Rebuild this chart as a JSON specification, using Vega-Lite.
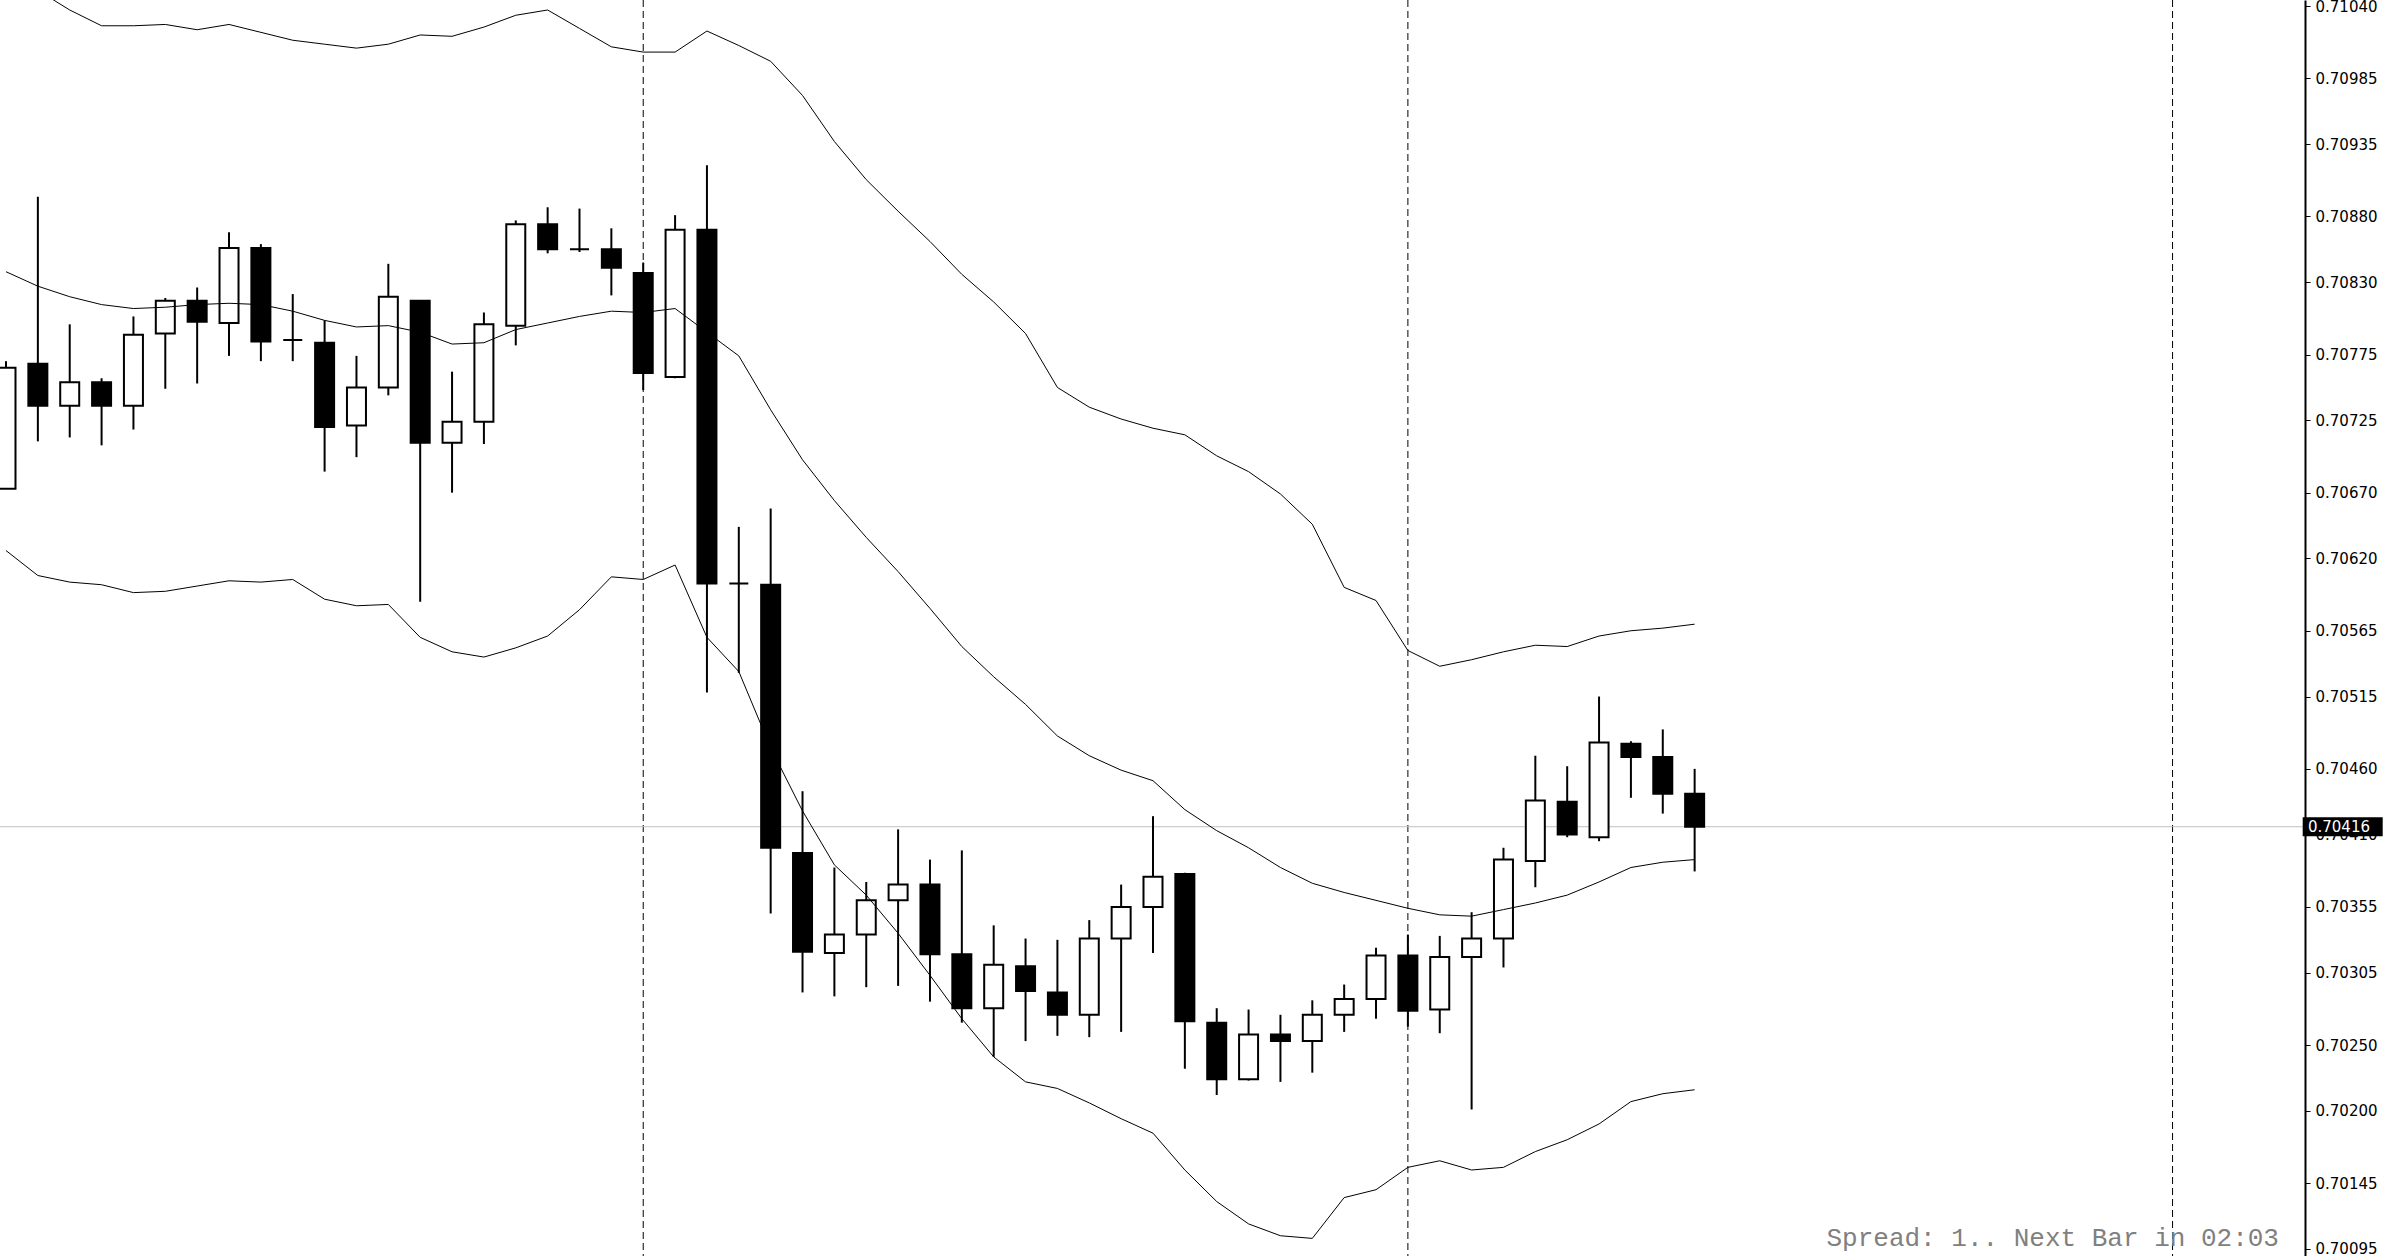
{
  "$schema": "https://vega.github.io/schema/vega-lite/v6.json",
  "width": 2305,
  "height": 1256,
  "autosize": {"type": "none"},
  "padding": {"left": 0, "top": 0, "right": 95, "bottom": 0},
  "background": "white",
  "config": {"view": {"stroke": null}},
  "resolve": {"axis": {"y": "independent"}},
  "datasets": {
    "bars": [
      {"bar": 0, "open": 0.70673, "high": 0.70770, "low": 0.70673, "close": 0.70765, "upper": 0.71067, "middle": 0.70838, "lower": 0.70626},
      {"bar": 1, "open": 0.70768, "high": 0.70895, "low": 0.70709, "close": 0.70736, "upper": 0.71052, "middle": 0.70827, "lower": 0.70607},
      {"bar": 2, "open": 0.70736, "high": 0.70798, "low": 0.70712, "close": 0.70754, "upper": 0.71037, "middle": 0.70819, "lower": 0.70602},
      {"bar": 3, "open": 0.70754, "high": 0.70757, "low": 0.70706, "close": 0.70736, "upper": 0.71025, "middle": 0.70813, "lower": 0.70600},
      {"bar": 4, "open": 0.70736, "high": 0.70804, "low": 0.70718, "close": 0.70790, "upper": 0.71025, "middle": 0.70810, "lower": 0.70594},
      {"bar": 5, "open": 0.70791, "high": 0.70818, "low": 0.70749, "close": 0.70816, "upper": 0.71026, "middle": 0.70811, "lower": 0.70595},
      {"bar": 6, "open": 0.70816, "high": 0.70826, "low": 0.70753, "close": 0.70800, "upper": 0.71022, "middle": 0.70813, "lower": 0.70599},
      {"bar": 7, "open": 0.70799, "high": 0.70868, "low": 0.70774, "close": 0.70856, "upper": 0.71026, "middle": 0.70814, "lower": 0.70603},
      {"bar": 8, "open": 0.70856, "high": 0.70859, "low": 0.70770, "close": 0.70785, "upper": 0.71020, "middle": 0.70813, "lower": 0.70602},
      {"bar": 9, "open": 0.70786, "high": 0.70821, "low": 0.70770, "close": 0.70786, "upper": 0.71014, "middle": 0.70808, "lower": 0.70604},
      {"bar": 10, "open": 0.70784, "high": 0.70801, "low": 0.70686, "close": 0.70720, "upper": 0.71011, "middle": 0.70801, "lower": 0.70589},
      {"bar": 11, "open": 0.70721, "high": 0.70774, "low": 0.70697, "close": 0.70750, "upper": 0.71008, "middle": 0.70796, "lower": 0.70584},
      {"bar": 12, "open": 0.70750, "high": 0.70844, "low": 0.70744, "close": 0.70819, "upper": 0.71011, "middle": 0.70797, "lower": 0.70585},
      {"bar": 13, "open": 0.70816, "high": 0.70816, "low": 0.70587, "close": 0.70708, "upper": 0.71018, "middle": 0.70792, "lower": 0.70560},
      {"bar": 14, "open": 0.70708, "high": 0.70762, "low": 0.70670, "close": 0.70724, "upper": 0.71017, "middle": 0.70783, "lower": 0.70549},
      {"bar": 15, "open": 0.70724, "high": 0.70807, "low": 0.70707, "close": 0.70798, "upper": 0.71024, "middle": 0.70784, "lower": 0.70545},
      {"bar": 16, "open": 0.70797, "high": 0.70877, "low": 0.70782, "close": 0.70874, "upper": 0.71033, "middle": 0.70794, "lower": 0.70552},
      {"bar": 17, "open": 0.70874, "high": 0.70887, "low": 0.70852, "close": 0.70855, "upper": 0.71037, "middle": 0.70799, "lower": 0.70561},
      {"bar": 18, "open": 0.70855, "high": 0.70886, "low": 0.70853, "close": 0.70855, "upper": 0.71023, "middle": 0.70804, "lower": 0.70581},
      {"bar": 19, "open": 0.70855, "high": 0.70871, "low": 0.70820, "close": 0.70841, "upper": 0.71009, "middle": 0.70808, "lower": 0.70606},
      {"bar": 20, "open": 0.70837, "high": 0.70845, "low": 0.70748, "close": 0.70761, "upper": 0.71005, "middle": 0.70807, "lower": 0.70604},
      {"bar": 21, "open": 0.70758, "high": 0.70881, "low": 0.70757, "close": 0.70870, "upper": 0.71005, "middle": 0.70810, "lower": 0.70615},
      {"bar": 22, "open": 0.70870, "high": 0.70919, "low": 0.70518, "close": 0.70601, "upper": 0.71021, "middle": 0.70792, "lower": 0.70560},
      {"bar": 23, "open": 0.70601, "high": 0.70644, "low": 0.70533, "close": 0.70601, "upper": 0.71010, "middle": 0.70774, "lower": 0.70534},
      {"bar": 24, "open": 0.70600, "high": 0.70658, "low": 0.70350, "close": 0.70400, "upper": 0.70998, "middle": 0.70733, "lower": 0.70476},
      {"bar": 25, "open": 0.70396, "high": 0.70443, "low": 0.70290, "close": 0.70321, "upper": 0.70972, "middle": 0.70695, "lower": 0.70428},
      {"bar": 26, "open": 0.70320, "high": 0.70385, "low": 0.70287, "close": 0.70334, "upper": 0.70937, "middle": 0.70664, "lower": 0.70387},
      {"bar": 27, "open": 0.70334, "high": 0.70374, "low": 0.70294, "close": 0.70360, "upper": 0.70908, "middle": 0.70636, "lower": 0.70364},
      {"bar": 28, "open": 0.70360, "high": 0.70414, "low": 0.70295, "close": 0.70372, "upper": 0.70884, "middle": 0.70610, "lower": 0.70335},
      {"bar": 29, "open": 0.70372, "high": 0.70391, "low": 0.70283, "close": 0.70319, "upper": 0.70861, "middle": 0.70582, "lower": 0.70303},
      {"bar": 30, "open": 0.70319, "high": 0.70398, "low": 0.70267, "close": 0.70278, "upper": 0.70836, "middle": 0.70553, "lower": 0.70270},
      {"bar": 31, "open": 0.70278, "high": 0.70341, "low": 0.70241, "close": 0.70311, "upper": 0.70815, "middle": 0.70530, "lower": 0.70241},
      {"bar": 32, "open": 0.70310, "high": 0.70331, "low": 0.70253, "close": 0.70291, "upper": 0.70791, "middle": 0.70509, "lower": 0.70222},
      {"bar": 33, "open": 0.70290, "high": 0.70330, "low": 0.70257, "close": 0.70273, "upper": 0.70750, "middle": 0.70485, "lower": 0.70217},
      {"bar": 34, "open": 0.70273, "high": 0.70345, "low": 0.70256, "close": 0.70331, "upper": 0.70735, "middle": 0.70470, "lower": 0.70206},
      {"bar": 35, "open": 0.70331, "high": 0.70372, "low": 0.70260, "close": 0.70355, "upper": 0.70726, "middle": 0.70459, "lower": 0.70194},
      {"bar": 36, "open": 0.70355, "high": 0.70424, "low": 0.70320, "close": 0.70378, "upper": 0.70719, "middle": 0.70451, "lower": 0.70183},
      {"bar": 37, "open": 0.70380, "high": 0.70381, "low": 0.70232, "close": 0.70268, "upper": 0.70714, "middle": 0.70429, "lower": 0.70155},
      {"bar": 38, "open": 0.70267, "high": 0.70278, "low": 0.70212, "close": 0.70224, "upper": 0.70698, "middle": 0.70413, "lower": 0.70131},
      {"bar": 39, "open": 0.70224, "high": 0.70277, "low": 0.70223, "close": 0.70258, "upper": 0.70686, "middle": 0.70400, "lower": 0.70114},
      {"bar": 40, "open": 0.70258, "high": 0.70273, "low": 0.70222, "close": 0.70253, "upper": 0.70669, "middle": 0.70385, "lower": 0.70105},
      {"bar": 41, "open": 0.70253, "high": 0.70284, "low": 0.70229, "close": 0.70273, "upper": 0.70646, "middle": 0.70373, "lower": 0.70103},
      {"bar": 42, "open": 0.70273, "high": 0.70296, "low": 0.70260, "close": 0.70285, "upper": 0.70598, "middle": 0.70366, "lower": 0.70134},
      {"bar": 43, "open": 0.70285, "high": 0.70324, "low": 0.70270, "close": 0.70318, "upper": 0.70588, "middle": 0.70360, "lower": 0.70140},
      {"bar": 44, "open": 0.70318, "high": 0.70334, "low": 0.70264, "close": 0.70276, "upper": 0.70550, "middle": 0.70354, "lower": 0.70157},
      {"bar": 45, "open": 0.70277, "high": 0.70333, "low": 0.70259, "close": 0.70317, "upper": 0.70538, "middle": 0.70349, "lower": 0.70162},
      {"bar": 46, "open": 0.70317, "high": 0.70351, "low": 0.70201, "close": 0.70331, "upper": 0.70543, "middle": 0.70348, "lower": 0.70155},
      {"bar": 47, "open": 0.70331, "high": 0.70400, "low": 0.70309, "close": 0.70391, "upper": 0.70549, "middle": 0.70353, "lower": 0.70157},
      {"bar": 48, "open": 0.70390, "high": 0.70470, "low": 0.70370, "close": 0.70436, "upper": 0.70554, "middle": 0.70358, "lower": 0.70169},
      {"bar": 49, "open": 0.70435, "high": 0.70462, "low": 0.70408, "close": 0.70410, "upper": 0.70553, "middle": 0.70364, "lower": 0.70178},
      {"bar": 50, "open": 0.70408, "high": 0.70515, "low": 0.70405, "close": 0.70480, "upper": 0.70561, "middle": 0.70374, "lower": 0.70190},
      {"bar": 51, "open": 0.70479, "high": 0.70481, "low": 0.70438, "close": 0.70469, "upper": 0.70565, "middle": 0.70385, "lower": 0.70207},
      {"bar": 52, "open": 0.70469, "high": 0.70490, "low": 0.70426, "close": 0.70441, "upper": 0.70567, "middle": 0.70389, "lower": 0.70213},
      {"bar": 53, "open": 0.70441, "high": 0.70460, "low": 0.70382, "close": 0.70416, "upper": 0.70570, "middle": 0.70391, "lower": 0.70216}
    ],
    "seps": [{"bar": 20}, {"bar": 44}, {"bar": 68}],
    "bid": [{"price": 0.70416, "label": "0.70416"}],
    "info": [{"text": "Spread: 1.. Next Bar in 02:03"}]
  },
  "layer": [
    {
      "data": {"name": "seps"},
      "mark": {"type": "rule", "color": "black", "strokeWidth": 1, "strokeDash": [7, 4]},
      "encoding": {
        "x": {"field": "bar", "type": "quantitative", "scale": {"domain": [-0.03125, 72], "nice": false, "zero": false}, "axis": null}
      }
    },
    {
      "data": {"name": "bid"},
      "mark": {"type": "rule", "color": "#c0c0c0", "strokeWidth": 1},
      "encoding": {
        "y": {"field": "price", "type": "quantitative", "scale": {"domain": [0.700896, 0.710446], "nice": false, "zero": false},
          "axis": {"orient": "right", "title": null, "grid": false,
            "values": [0.7104, 0.70985, 0.70935, 0.7088, 0.7083, 0.70775, 0.70725, 0.7067, 0.7062, 0.70565, 0.70515, 0.7046, 0.7041, 0.70355, 0.70305, 0.7025, 0.702, 0.70145, 0.70095],
            "format": ".5f", "domainColor": "black", "domainWidth": 2, "tickColor": "black", "tickSize": 5, "tickWidth": 1,
            "labelFont": "DejaVu Sans", "labelFontSize": 15, "labelColor": "black", "labelPadding": 5,
            "labelOverlap": false, "labelFlush": false, "labelBound": false}}
      }
    },
    {
      "data": {"name": "bars"},
      "mark": {"type": "rule", "color": "black", "strokeWidth": 2},
      "encoding": {
        "x": {"field": "bar", "type": "quantitative"},
        "y": {"field": "low", "type": "quantitative", "axis": null},
        "y2": {"field": "high"}
      }
    },
    {
      "data": {"name": "bars"},
      "mark": {"type": "bar", "size": 19, "stroke": "black", "strokeWidth": 2},
      "encoding": {
        "x": {"field": "bar", "type": "quantitative"},
        "y": {"field": "open", "type": "quantitative", "axis": null},
        "y2": {"field": "close"},
        "fill": {"condition": {"test": "datum.close > datum.open", "value": "white"}, "value": "black"}
      }
    },
    {
      "data": {"name": "bars"},
      "mark": {"type": "line", "color": "black", "strokeWidth": 1, "clip": true},
      "encoding": {
        "x": {"field": "bar", "type": "quantitative"},
        "y": {"field": "upper", "type": "quantitative", "axis": null}
      }
    },
    {
      "data": {"name": "bars"},
      "mark": {"type": "line", "color": "black", "strokeWidth": 1, "clip": true},
      "encoding": {
        "x": {"field": "bar", "type": "quantitative"},
        "y": {"field": "middle", "type": "quantitative", "axis": null}
      }
    },
    {
      "data": {"name": "bars"},
      "mark": {"type": "line", "color": "black", "strokeWidth": 1, "clip": true},
      "encoding": {
        "x": {"field": "bar", "type": "quantitative"},
        "y": {"field": "lower", "type": "quantitative", "axis": null}
      }
    },
    {
      "data": {"name": "bid"},
      "mark": {"type": "tick", "orient": "horizontal", "color": "black", "size": 80, "thickness": 19, "opacity": 1},
      "encoding": {
        "x": {"datum": 73.34, "type": "quantitative"},
        "y": {"field": "price", "type": "quantitative", "axis": null}
      }
    },
    {
      "data": {"name": "bid"},
      "mark": {"type": "text", "color": "white", "font": "DejaVu Sans", "fontSize": 15, "align": "left", "baseline": "middle"},
      "encoding": {
        "x": {"datum": 72.25, "type": "quantitative"},
        "y": {"field": "price", "type": "quantitative", "axis": null},
        "text": {"field": "label"}
      }
    },
    {
      "data": {"name": "info"},
      "mark": {"type": "text", "color": "#808080", "font": "Liberation Mono", "fontSize": 26, "align": "right", "baseline": "alphabetic"},
      "encoding": {
        "x": {"datum": 71.34, "type": "quantitative"},
        "y": {"datum": 0.70097, "type": "quantitative", "axis": null},
        "text": {"field": "text"}
      }
    }
  ]
}
